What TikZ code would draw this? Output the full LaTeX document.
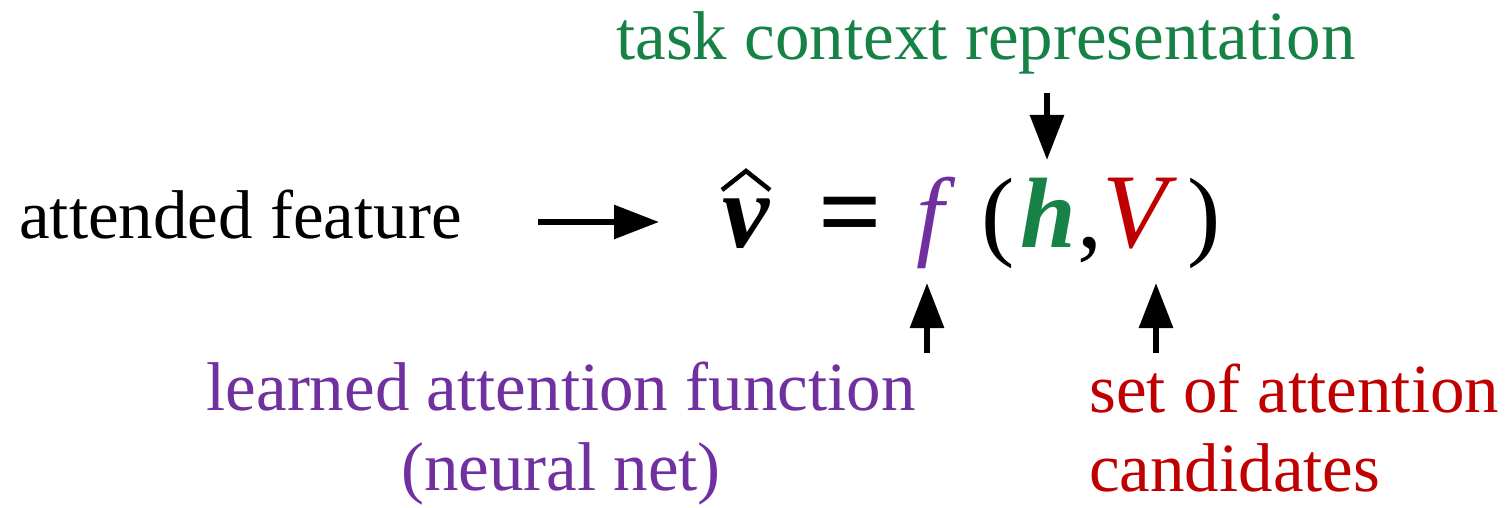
\documentclass[tikz,border=0pt]{standalone}
\usepackage{fontspec}
\setmainfont{Liberation Serif}
\usetikzlibrary{arrows.meta}
\definecolor{tgreen}{RGB}{22,130,70}
\definecolor{tpurple}{RGB}{112,48,160}
\definecolor{tred}{RGB}{192,0,0}
\tikzset{
  lbl/.style={inner sep=0pt, font=\fontsize{69}{75}\selectfont},
  sym/.style={inner sep=0pt, anchor=base, font=\fontsize{100}{100}\selectfont},
  arr/.style={line width=6pt, -{Triangle[length=45pt,width=33pt]}},
}
\begin{document}
\begin{tikzpicture}[x=1pt,y=-1pt]
\useasboundingbox (0,0) rectangle (1511,508);
% labels
\node[lbl, anchor=base west] (af) at (19,238) {attended feature};
\node[lbl, anchor=base, text=tgreen] (tcr) at (986,60) {task context representation};
\node[lbl, anchor=north, align=center, text=tpurple] (laf) at (561,362) {learned attention function\\[5pt](neural net)};
\node[lbl, anchor=north west, align=left, text=tred] (sac) at (1089,364) {set of attention\\[4pt]candidates};
% equation
\node[sym, font=\fontsize{106}{106}\selectfont] (v) at (746,247) {\textbf{\textit{v}}};
\draw[line width=4.5pt, line join=miter] (722,190) -- (746,171) -- (770,190);
\node[sym, font=\fontsize{112}{112}\selectfont] (eq) at (850,249) {\textbf{=}};
\node[sym, text=tpurple] (f) at (936,247) {\textit{f}};
\node[sym] (lp) at (998,247) {(};
\node[sym, text=tgreen] (h) at (1048,247) {\textbf{\textit{h}}};
\node[sym] (cm) at (1090,247) {,};
\node[sym, text=tred, font=\fontsize{106}{106}\selectfont] (V) at (1140,247) {\textit{V}};
\node[sym] (rp) at (1204,247) {)};
% connector end points
\coordinate (a1s) at (538,222);
\coordinate (a1e) at (659,222);
\coordinate (a2s) at (1047,93);
\coordinate (a2e) at (1047,160);
\coordinate (a3s) at (927,353);
\coordinate (a3e) at (927,283);
\coordinate (a4s) at (1156,353);
\coordinate (a4e) at (1156,283);
\draw[arr] (a1s) -- (a1e);
\draw[arr] (a2s) -- (a2e);
\draw[arr] (a3s) -- (a3e);
\draw[arr] (a4s) -- (a4e);
\end{tikzpicture}
\end{document}
